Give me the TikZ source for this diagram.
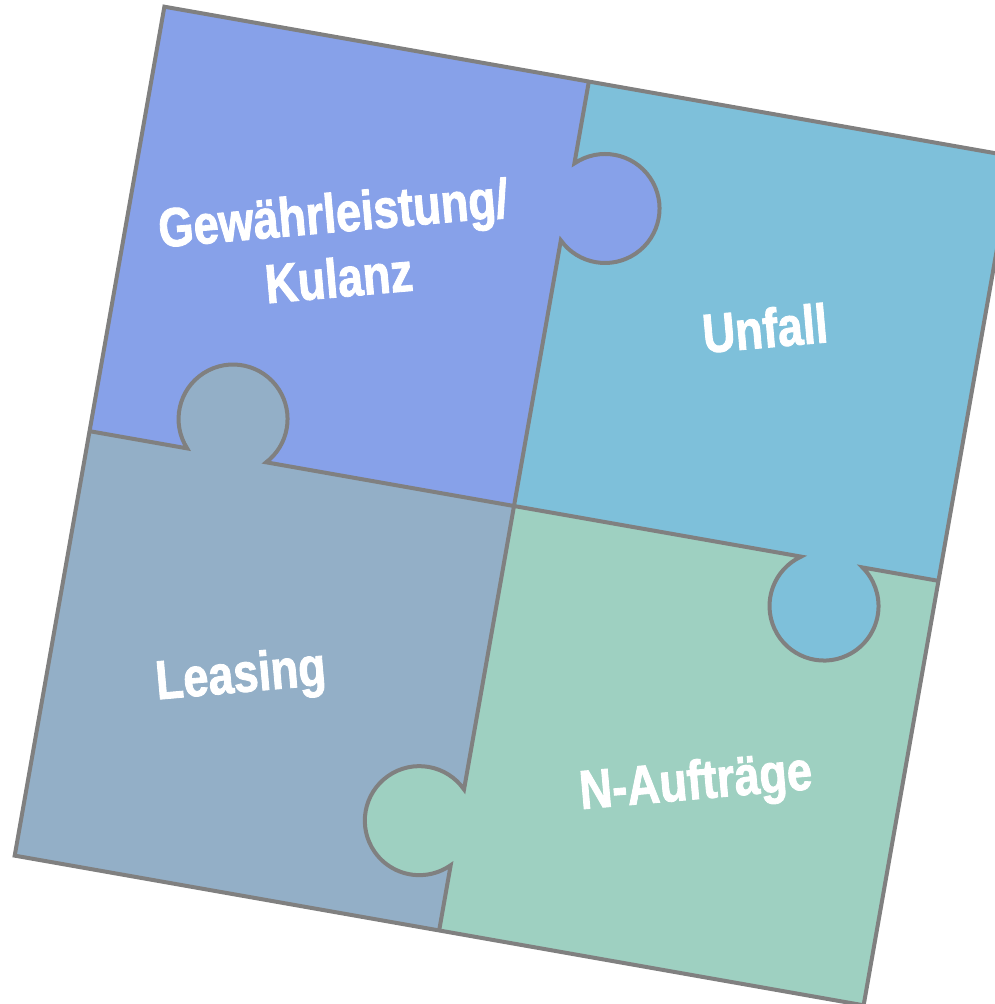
\documentclass[tikz,border=0pt]{standalone}
\usepackage{fontspec}
\newfontfamily\nb{Liberation Sans}[UprightFont={* Bold},FakeStretch=0.82,FakeBold=1.6]
\definecolor{cTL}{HTML}{87A1E9}
\definecolor{cTR}{HTML}{7EC0DA}
\definecolor{cBL}{HTML}{93AFC7}
\definecolor{cBR}{HTML}{9ED0C1}
\definecolor{cLine}{HTML}{808080}
\tikzset{
  seam/.style={draw=cLine, line width=4pt},
  label/.style={text=white, font=\nb\fontsize{55}{65}\selectfont, align=center, rotate=5, inner sep=0pt}
}
\begin{document}
\begin{tikzpicture}[x=1pt,y=1pt]
\useasboundingbox (0,0) rectangle (994,-1004);
\begin{scope}[shift={(514,-506)}, rotate=-10]
  % piece fills
  \fill[cTL] (-431,0) rectangle (0,431);
  \fill[cTR] (0,0) rectangle (431,431);
  \fill[cBL] (-431,-431) rectangle (0,0);
  \fill[cBR] (0,-431) rectangle (431,0);
  % tabs
  \fill[cTL] (38,308.8) circle[radius=54.5];
  \fill[cBL] (-291.8,36.9) circle[radius=54.5];
  \fill[cTR] (322.7,-44.7) circle[radius=54.5];
  \fill[cBR] (-38.6,-326.3) circle[radius=54.5];
  % seams
  \coordinate (hL) at (-431,0);
  \coordinate (hR) at (431,0);
  \coordinate (vT) at (0,431);
  \coordinate (vB) at (0,-431);
  \draw[seam] (hL) -- (-331.9,0) arc[start angle=222.6, end angle=-42.6, radius=54.5]
     -- (291.5,0) arc[start angle=124.9, end angle=415.1, radius=54.5] -- (hR);
  \draw[seam] (vT) -- (0,347.87) arc[start angle=134.2, end angle=-134.2, radius=54.5]
     -- (0,-287.83) arc[start angle=44.9, end angle=315.1, radius=54.5] -- (vB);
  \draw[seam] (-431,-431) rectangle (431,431);
\end{scope}
\node[label] (gk) at (336,-245) {Gewährleistung/\\Kulanz};
\node[label] (un) at (765,-328) {Unfall};
\node[label] (le) at (241,-678) {Leasing};
\node[label] (na) at (696,-785) {N-Aufträge};
\end{tikzpicture}
\end{document}
